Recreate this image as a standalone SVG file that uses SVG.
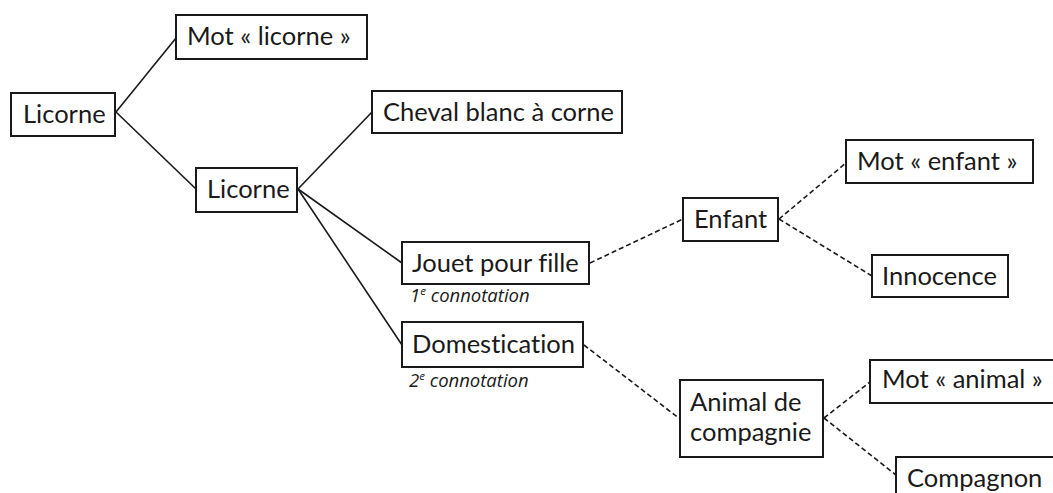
<svg xmlns="http://www.w3.org/2000/svg" width="1053" height="493" viewBox="0 0 1053 493">
<style>
.box{fill:#fff;stroke:#1a1a1a;stroke-width:2}
.lbl{font-family:Lato,"Liberation Sans",sans-serif;font-size:25.5px;fill:#1a1a1a;font-variant-ligatures:none}
.note{font-family:"Open Sans","Liberation Sans",sans-serif;font-size:18.5px;font-style:italic;fill:#1a1a1a}
.sup{font-size:11.5px}
.solid{stroke:#1a1a1a;stroke-width:1.6;fill:none}
.dash{stroke:#1a1a1a;stroke-width:1.6;fill:none;stroke-dasharray:5 3}
</style>
<rect width="1053" height="493" fill="#fff"/>
<g id="connectors">
<line class="solid" x1="116" y1="112" x2="176" y2="38"/>
<line class="solid" x1="116" y1="112" x2="196" y2="189"/>
<line class="solid" x1="298" y1="189" x2="372" y2="112"/>
<line class="solid" x1="298" y1="189" x2="402" y2="263"/>
<line class="solid" x1="298" y1="189" x2="402" y2="345"/>
<line class="dash" x1="590" y1="263" x2="683" y2="219"/>
<line class="dash" x1="779" y1="219" x2="846" y2="163"/>
<line class="dash" x1="779" y1="219" x2="872" y2="276"/>
<line class="dash" x1="584" y1="345" x2="680" y2="419"/>
<line class="dash" x1="824" y1="418" x2="870" y2="382"/>
<line class="dash" x1="824" y1="418" x2="896" y2="475"/>
</g>
<g id="n-licorne1"><rect class="box" x="11" y="93" width="104" height="43"/><text class="lbl" x="23" y="123">Licorne</text></g>
<g id="n-mot-licorne"><rect class="box" x="176" y="15" width="191" height="44"/><text class="lbl" x="187" y="45">Mot « licorne »</text></g>
<g id="n-licorne2"><rect class="box" x="196" y="168" width="101" height="44"/><text class="lbl" x="207" y="198">Licorne</text></g>
<g id="n-cheval"><rect class="box" x="372" y="91" width="250" height="42"/><text class="lbl" x="383" y="121">Cheval blanc à corne</text></g>
<g id="n-jouet"><rect class="box" x="402" y="242" width="187" height="42"/><text class="lbl" x="412" y="272">Jouet pour fille</text>
<text class="note" x="410" y="302">1<tspan class="sup" dy="-7">e</tspan><tspan dy="7"> connotation</tspan></text></g>
<g id="n-domestication"><rect class="box" x="402" y="322" width="181" height="45"/><text class="lbl" x="412" y="353">Domestication</text>
<text class="note" x="409" y="387">2<tspan class="sup" dy="-7">e</tspan><tspan dy="7"> connotation</tspan></text></g>
<g id="n-enfant"><rect class="box" x="683" y="198" width="95" height="43"/><text class="lbl" x="694" y="228">Enfant</text></g>
<g id="n-mot-enfant"><rect class="box" x="846" y="140" width="187" height="43"/><text class="lbl" x="857" y="170">Mot « enfant »</text></g>
<g id="n-innocence"><rect class="box" x="872" y="255" width="136" height="42"/><text class="lbl" x="882" y="285">Innocence</text></g>
<g id="n-animal"><rect class="box" x="680" y="380" width="143" height="77"/><text class="lbl" x="690" y="411">Animal de</text><text class="lbl" x="690" y="441">compagnie</text></g>
<g id="n-mot-animal"><rect class="box" x="870" y="360" width="200" height="43"/><text class="lbl" x="882" y="388">Mot « animal »</text></g>
<g id="n-compagnon"><rect class="box" x="896" y="457" width="200" height="60"/><text class="lbl" x="907" y="487">Compagnon</text></g>
</svg>
